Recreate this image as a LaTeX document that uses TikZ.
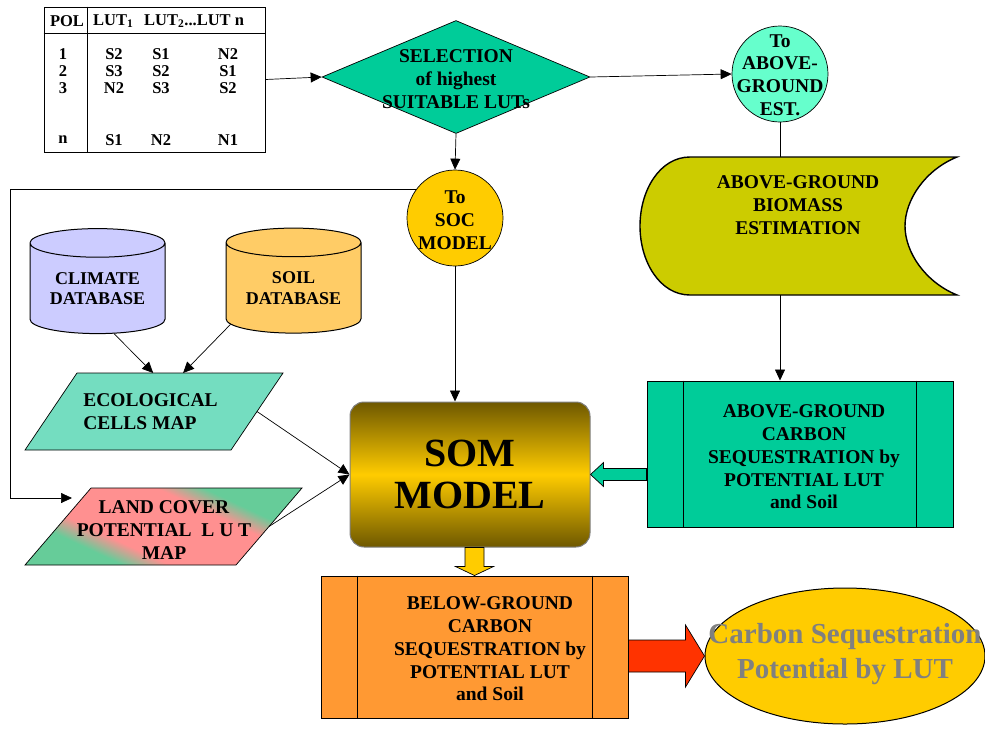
\documentclass[tikz,border=0pt]{standalone}
\usepackage{fontspec}
\setmainfont{Liberation Serif}
\usetikzlibrary{shapes.geometric,arrows.meta,calc,positioning}

\definecolor{selgreen}{HTML}{00CC99}
\definecolor{aquafill}{HTML}{66FFCC}
\definecolor{socyellow}{HTML}{FFCC00}
\definecolor{biofill}{HTML}{CCCC00}
\definecolor{climfill}{HTML}{CCCCFF}
\definecolor{soilfill}{HTML}{FFCC66}
\definecolor{ecofill}{HTML}{74DDC0}
\definecolor{lcpink}{HTML}{FF9090}
\definecolor{lcgreen}{HTML}{66CC99}
\definecolor{somdark}{HTML}{6E5800}
\definecolor{somgold}{HTML}{FFCC00}
\definecolor{bgfill}{HTML}{FF9933}
\definecolor{redarrow}{HTML}{FF3300}
\definecolor{cspgray}{HTML}{808080}

\pgfdeclarehorizontalshading{lcshade}{100bp}{color(0bp)=(lcgreen); color(37bp)=(lcgreen); color(42bp)=(lcpink); color(58bp)=(lcpink); color(63bp)=(lcgreen); color(100bp)=(lcgreen)}

\tikzset{
	txt/.style={font=\bfseries\fontsize{19.5}{22.8}\selectfont, align=center},
	tabtxt/.style={font=\bfseries\fontsize{16.5}{17}\selectfont, inner sep=0pt, align=center},
	conn/.style={draw, line width=0.7pt},
	arr/.style={conn, -{Triangle[length=11pt,width=10pt]}},
	circnode/.style={circle, draw, line width=0.7pt, minimum size=96pt, inner sep=0pt},
	cbox/.style={rectangle, draw, line width=1pt, inner sep=0pt},
	dbcyl/.style={cylinder, shape border rotate=90, aspect=0.3, draw, line width=1pt, minimum width=135pt, minimum height=105pt, inner sep=0pt, font=\bfseries\fontsize{18}{20.5}\selectfont, align=center},
	blockarr/.style={draw, line width=0.7pt},
}

\begin{document}
\begin{tikzpicture}[x=1pt,y=-1pt]
	\useasboundingbox (0,0) rectangle (985,729);

	\node[draw, line width=0.8pt, minimum width=221pt, minimum height=145pt, inner sep=0pt] (tab) at (154.5,79.5) {};
	\draw[line width=0.8pt] (tab.north west |- 0,33) -- (tab.north east |- 0,33);
	\draw[line width=0.8pt] ($(tab.north west)+(44,0)$) -- ($(tab.south west)+(44,0)$);
	\node[tabtxt] (pol) at (67,21) {POL};
	\node[tabtxt, anchor=west] (lutone) at (93,21) {LUT\textsubscript{1}};
	\node[tabtxt, anchor=west] (luttwo) at (144,21) {LUT\textsubscript{2}...LUT n};
	\node[tabtxt] (cpol) at (63,71) {1\\2\\3};
	\node[tabtxt] (cone) at (114,71) {S2\\S3\\N2};
	\node[tabtxt] (ctwo) at (161,71) {S1\\S2\\S3};
	\node[tabtxt] (cn) at (228,71) {N2\\S1\\S2};
	\node[tabtxt] (rown) at (63,140) {n};
	\node[tabtxt] (rowna) at (114,140) {S1};
	\node[tabtxt] (rownb) at (161,140) {N2};
	\node[tabtxt] (rownc) at (228,140) {N1};

	\node[diamond, draw, line width=0.7pt, fill=selgreen, minimum width=268pt, minimum height=113pt, inner sep=0pt,
		label={[txt, yshift=-2pt]center:SELECTION\\of highest\\SUITABLE LUTs}] (sel) at (456,77) {};
	\node[circnode, fill=aquafill, label={[txt, yshift=-1pt]center:To\\ABOVE-\\GROUND\\EST.}] (abv) at (780,74) {};
	\node[circnode, fill=socyellow, label={[txt, yshift=-2pt]center:To\\SOC\\MODEL}] (soc) at (455,218) {};

	\draw[line width=1.4pt, fill=biofill] (690,157) -- (957,157)
		.. controls (925,170) and (905,200) .. (905,226)
		.. controls (905,252) and (925,282) .. (957,295) -- (690,295)
		.. controls (660,295) and (640,262) .. (640,226)
		.. controls (640,190) and (660,157) .. cycle;
	\node[txt] (bio) at (798,205) {ABOVE-GROUND\\BIOMASS\\ESTIMATION};
	\coordinate (biotop) at (780,157);
	\coordinate (biobot) at (780,295);

	\node[cbox, fill=selgreen, minimum width=306pt, minimum height=146pt,
		label={[txt, xshift=4pt, yshift=-3pt]center:ABOVE-GROUND\\CARBON\\SEQUESTRATION by\\POTENTIAL LUT\\and Soil}] (agc) at (800,454) {};
	\draw[line width=1pt] ($(agc.north west)+(37,0)$) -- ($(agc.south west)+(37,0)$);
	\draw[line width=1pt] ($(agc.north east)+(-37,0)$) -- ($(agc.south east)+(-37,0)$);

	\node[draw=gray, line width=1pt, rounded corners=14pt, minimum width=240pt, minimum height=145pt,
		top color=somdark, bottom color=somdark, middle color=somgold,
		font=\bfseries\fontsize{40}{42}\selectfont, align=center] (som) at (470,474.5) {SOM\\MODEL};

	\node[dbcyl, fill=climfill] (clim) at (97.5,288.5) {CLIMATE\\DATABASE};
	\node[dbcyl, fill=soilfill] (soil) at (293.5,288) {SOIL\\DATABASE};

	\coordinate (eca) at (77,373);
	\coordinate (ecb) at (283,373);
	\coordinate (ecc) at (231,450);
	\coordinate (ecd) at (25,450);
	\draw[line width=0.7pt, fill=ecofill] (eca) -- (ecb) -- (ecc) -- (ecd) -- cycle;
	\node[txt, align=left] (eco) at (150.5,411.5) {ECOLOGICAL\\CELLS MAP};
	\coordinate (ecoina) at ($(eca)!0.37!(ecb)$);
	\coordinate (ecoinb) at ($(eca)!0.515!(ecb)$);
	\coordinate (ecoout) at ($(ecb)!0.5!(ecc)$);

	\coordinate (lca) at (91,488);
	\coordinate (lcb) at (302,488);
	\coordinate (lcc) at (236,565);
	\coordinate (lcd) at (25,565);
	\coordinate (lcmid) at (163.5,526.5);
	\begin{scope}
		\clip (lca) -- (lcb) -- (lcc) -- (lcd) -- cycle;
		\begin{scope}[transform canvas={rotate around={65:(lcmid)}}]
			\shade[shading=lcshade] ($(lcmid)+(-100,-150)$) rectangle ($(lcmid)+(100,150)$);
		\end{scope}
	\end{scope}
	\draw[line width=0.7pt] (lca) -- (lcb) -- (lcc) -- (lcd) -- cycle;
	\node[txt] (lcv) at (164,530) {LAND COVER\\POTENTIAL\ \ L U T\\MAP};
	\coordinate (lcout) at ($(lcb)!0.5!(lcc)$);
	\coordinate (lcin) at (72,498);
	\coordinate (lft) at (10,498);

	\node[cbox, fill=bgfill, minimum width=307pt, minimum height=142pt,
		label={[txt, xshift=15.5pt, yshift=-2pt]center:BELOW-GROUND\\CARBON\\SEQUESTRATION by\\POTENTIAL LUT\\and Soil}] (bgc) at (474.5,647) {};
	\draw[line width=1pt] ($(bgc.north west)+(37,0)$) -- ($(bgc.south west)+(37,0)$);
	\draw[line width=1pt] ($(bgc.north east)+(-36,0)$) -- ($(bgc.south east)+(-36,0)$);

	\node[ellipse, draw, line width=1pt, fill=socyellow, minimum width=280pt, minimum height=136pt, inner sep=0pt,
		label={[font=\bfseries\fontsize{29}{35}\selectfont, text=cspgray, align=center, yshift=2pt]center:Carbon Sequestration\\Potential by LUT}] (csp) at (845,656) {};

	\draw[arr] (tab.east) -- (sel.west);
	\draw[arr] (sel.east) -- (abv.west);
	\draw[arr] (sel.south) -- (soc.north);
	\draw[conn] (abv.south) -- (biotop);
	\draw[arr] (biobot) -- (biobot |- agc.north);
	\draw[arr] (soc.south) -- (soc.south |- som.north);
	\draw[arr] (soc.143) -| (lft) -- (lcin);
	\draw[arr] (clim.-70) -- (ecoina);
	\draw[arr] (soil.210) -- (ecoinb);
	\draw[arr] (ecoout) -- (som.west);
	\draw[arr] (lcout) -- (som.west);

	\draw[blockarr, fill=selgreen] (som.east) -- ++(13,-12) -- ++(0,6) -- ($(agc.west |- som.east)+(0,-6)$)
		-- ($(agc.west |- som.east)+(0,6)$) -- ($(som.east)+(13,6)$) -- ++(0,6) -- cycle;
	\draw[blockarr, fill=socyellow] (bgc.north) -- ++(-19,-9) -- ++(9.5,0) -- ($(som.south -| bgc.north)+(-9.5,0)$)
		-- ($(som.south -| bgc.north)+(9.5,0)$) -- ($(bgc.north)+(9.5,-9)$) -- ++(9.5,0) -- cycle;
	\draw[blockarr, fill=redarrow] (csp.west) -- ++(-19,-31) -- ++(0,15) -- ($(bgc.east |- csp.west)+(0,-16)$)
		-- ($(bgc.east |- csp.west)+(0,16)$) -- ($(csp.west)+(-19,16)$) -- ++(0,15) -- cycle;
\end{tikzpicture}
\end{document}
